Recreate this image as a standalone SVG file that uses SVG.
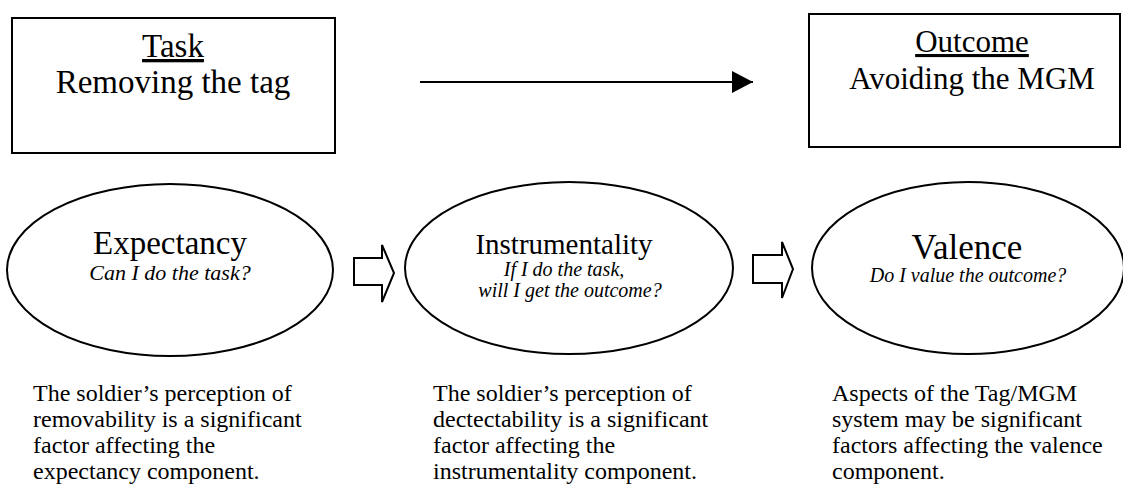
<svg xmlns="http://www.w3.org/2000/svg" width="1123" height="485" viewBox="0 0 1123 485">
<style>
.box{fill:#fff;stroke:#000;stroke-width:2}
.ell{fill:#fff;stroke:#000;stroke-width:2}
.t{font-family:"Liberation Serif","DejaVu Serif",serif;fill:#000;text-anchor:middle}
.it{font-style:italic}
.body{font-family:"Liberation Serif","DejaVu Serif",serif;fill:#000;font-size:24px}
.hollow{fill:#fff;stroke:#000;stroke-width:2;stroke-linejoin:miter}
</style>
<defs>
<marker id="ah" markerWidth="22" markerHeight="22" refX="21" refY="11" orient="auto" markerUnits="userSpaceOnUse">
<path d="M0,0 L21,11 L0,22 Z" fill="#000"/>
</marker>
</defs>
<rect width="1123" height="485" fill="#fff"/>
<g id="task">
<rect class="box" x="12" y="18" width="323" height="135"/>
<text class="t" x="173" y="57" font-size="33" text-decoration="underline">Task</text>
<text class="t" x="173" y="93" font-size="33">Removing the tag</text>
</g>
<g id="outcome">
<rect class="box" x="809" y="14" width="311" height="133"/>
<text class="t" x="972" y="52" font-size="31" text-decoration="underline">Outcome</text>
<text class="t" x="972" y="89" font-size="31">Avoiding the MGM</text>
</g>
<g id="connectors">
<line x1="420" y1="82" x2="753" y2="82" stroke="#000" stroke-width="2" marker-end="url(#ah)"/>
<path class="hollow" d="M354,258 L382,258 L382,245 L394,273 L382,302 L382,285 L354,285 Z"/>
<path class="hollow" d="M753,255 L782,255 L782,242 L793,269 L782,298 L782,283 L753,283 Z"/>
</g>
<g id="expectancy">
<ellipse class="ell" cx="170" cy="270" rx="163" ry="86"/>
<text class="t" x="170" y="254" font-size="33">Expectancy</text>
<text class="t it" x="170" y="280" font-size="22">Can I do the task?</text>
</g>
<g id="instrumentality">
<ellipse class="ell" cx="569" cy="268" rx="164" ry="86"/>
<text class="t" x="564" y="254" font-size="29">Instrumentality</text>
<text class="t it" x="564" y="276" font-size="20">If I do the task,</text>
<text class="t it" x="570" y="297" font-size="20">will I get the outcome?</text>
</g>
<g id="valence">
<ellipse class="ell" cx="968" cy="268" rx="156" ry="86"/>
<text class="t" x="967" y="259" font-size="35">Valence</text>
<text class="t it" x="968" y="282" font-size="20">Do I value the outcome?</text>
</g>
<g id="desc-expectancy">
<text class="body" x="33" y="401">The soldier’s perception of</text>
<text class="body" x="33" y="427">removability is a significant</text>
<text class="body" x="33" y="453">factor affecting the</text>
<text class="body" x="33" y="479">expectancy component.</text>
</g>
<g id="desc-instrumentality">
<text class="body" x="433" y="401">The soldier’s perception of</text>
<text class="body" x="433" y="427">dectectability is a significant</text>
<text class="body" x="433" y="453">factor affecting the</text>
<text class="body" x="433" y="479">instrumentality component.</text>
</g>
<g id="desc-valence">
<text class="body" x="832" y="401">Aspects of the Tag/MGM</text>
<text class="body" x="832" y="427">system may be significant</text>
<text class="body" x="832" y="453">factors affecting the valence</text>
<text class="body" x="832" y="479">component.</text>
</g>
</svg>
